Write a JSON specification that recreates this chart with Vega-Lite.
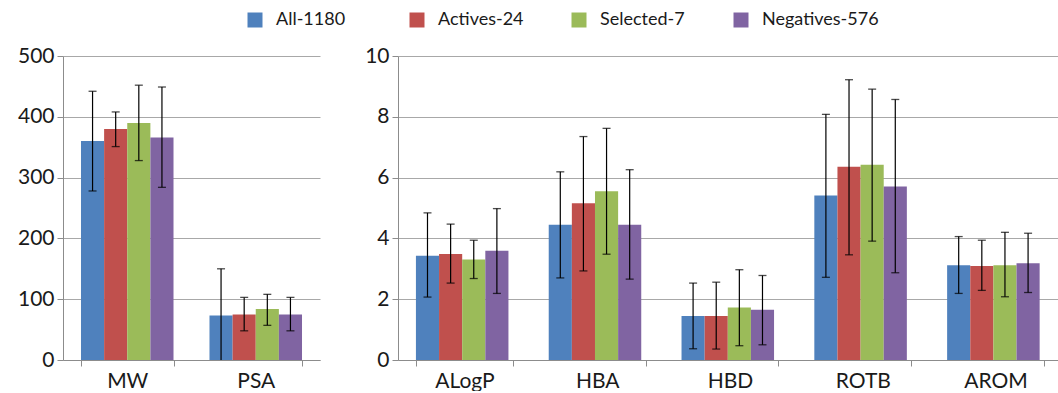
{
  "$schema": "https://vega.github.io/schema/vega-lite/v6.json",
  "padding": {"left": 17, "top": 11, "right": 0, "bottom": 0},
  "background": "white",
  "datasets": {
    "left": [
      {"prop": "MW", "group": "All-1180", "mean": 360, "lo": 278, "hi": 442},
      {"prop": "MW", "group": "Actives-24", "mean": 380, "lo": 351, "hi": 408},
      {"prop": "MW", "group": "Selected-7", "mean": 390, "lo": 328, "hi": 452},
      {"prop": "MW", "group": "Negatives-576", "mean": 366, "lo": 284, "hi": 449},
      {"prop": "PSA", "group": "All-1180", "mean": 73, "lo": -4, "hi": 150},
      {"prop": "PSA", "group": "Actives-24", "mean": 75, "lo": 48, "hi": 103},
      {"prop": "PSA", "group": "Selected-7", "mean": 84, "lo": 57, "hi": 108},
      {"prop": "PSA", "group": "Negatives-576", "mean": 75, "lo": 48, "hi": 103}
    ],
    "right": [
      {"prop": "ALogP", "group": "All-1180", "mean": 3.43, "lo": 2.07, "hi": 4.84},
      {"prop": "ALogP", "group": "Actives-24", "mean": 3.49, "lo": 2.53, "hi": 4.47},
      {"prop": "ALogP", "group": "Selected-7", "mean": 3.31, "lo": 2.68, "hi": 3.94},
      {"prop": "ALogP", "group": "Negatives-576", "mean": 3.59, "lo": 2.19, "hi": 4.98},
      {"prop": "HBA", "group": "All-1180", "mean": 4.45, "lo": 2.70, "hi": 6.19},
      {"prop": "HBA", "group": "Actives-24", "mean": 5.16, "lo": 2.93, "hi": 7.35},
      {"prop": "HBA", "group": "Selected-7", "mean": 5.55, "lo": 3.48, "hi": 7.62},
      {"prop": "HBA", "group": "Negatives-576", "mean": 4.45, "lo": 2.66, "hi": 6.26},
      {"prop": "HBD", "group": "All-1180", "mean": 1.45, "lo": 0.37, "hi": 2.53},
      {"prop": "HBD", "group": "Actives-24", "mean": 1.45, "lo": 0.36, "hi": 2.56},
      {"prop": "HBD", "group": "Selected-7", "mean": 1.73, "lo": 0.47, "hi": 2.97},
      {"prop": "HBD", "group": "Negatives-576", "mean": 1.65, "lo": 0.50, "hi": 2.78},
      {"prop": "ROTB", "group": "All-1180", "mean": 5.41, "lo": 2.72, "hi": 8.08},
      {"prop": "ROTB", "group": "Actives-24", "mean": 6.36, "lo": 3.46, "hi": 9.22},
      {"prop": "ROTB", "group": "Selected-7", "mean": 6.42, "lo": 3.91, "hi": 8.91},
      {"prop": "ROTB", "group": "Negatives-576", "mean": 5.71, "lo": 2.87, "hi": 8.57},
      {"prop": "AROM", "group": "All-1180", "mean": 3.12, "lo": 2.19, "hi": 4.06},
      {"prop": "AROM", "group": "Actives-24", "mean": 3.09, "lo": 2.29, "hi": 3.94},
      {"prop": "AROM", "group": "Selected-7", "mean": 3.12, "lo": 2.08, "hi": 4.20},
      {"prop": "AROM", "group": "Negatives-576", "mean": 3.18, "lo": 2.22, "hi": 4.17}
    ]
  },
  "config": {
    "font": "Lato",
    "view": {"stroke": null},
    "axis": {
      "labelFont": "Lato",
      "labelColor": "#1a1a1a",
      "domainColor": "#8c8c8c",
      "tickColor": "#8c8c8c",
      "gridColor": "#a8a8a8",
      "tickSize": 6,
      "labelPadding": 3
    },
    "legend": {"labelFont": "Lato", "labelFontSize": 18, "labelColor": "#1a1a1a"}
  },
  "spacing": 44,
  "hconcat": [
    {
      "width": 257,
      "height": 304,
      "data": {"name": "left"},
      "encoding": {
        "x": {"field": "prop", "type": "nominal", "sort": ["MW", "PSA"],
          "scale": {"paddingInner": 0.28, "paddingOuter": 0.14},
          "axis": {"title": null, "labelAngle": 0, "labelFontSize": 21, "labelPadding": 4, "tickBand": "extent", "grid": false}},
        "xOffset": {"field": "group", "type": "nominal", "sort": ["All-1180", "Actives-24", "Selected-7", "Negatives-576"], "scale": {"paddingInner": 0, "paddingOuter": 0}}
      },
      "layer": [
        {
          "mark": {"type": "bar", "clip": true},
          "encoding": {
            "y": {"field": "mean", "type": "quantitative", "scale": {"domain": [0, 500], "nice": false},
              "axis": {"title": null, "values": [0, 50, 100, 150, 200, 250, 300, 350, 400, 450, 500],
                "labelExpr": "datum.value % 100 === 0 ? datum.label : ''", "labelFontSize": 21, "grid": true}},
            "color": {"field": "group", "type": "nominal",
              "scale": {"domain": ["All-1180", "Actives-24", "Selected-7", "Negatives-576"], "range": ["#4F81BD", "#C0504D", "#9BBB59", "#8064A2"]},
              "legend": {"title": null, "orient": "none", "legendX": 183, "legendY": -45, "direction": "horizontal", "columns": 4, "gridAlign": "all", "symbolType": "square", "symbolSize": 225, "symbolStrokeWidth": 0, "columnPadding": 15, "labelOffset": 12}}
          }
        },
        {
          "mark": {"type": "rule", "color": "black", "strokeWidth": 1.2, "clip": true},
          "encoding": {"y": {"field": "lo", "type": "quantitative"}, "y2": {"field": "hi"}}
        },
        {
          "mark": {"type": "tick", "color": "black", "thickness": 1.3, "size": 8, "orient": "horizontal", "clip": true},
          "encoding": {"y": {"field": "hi", "type": "quantitative"}}
        },
        {
          "mark": {"type": "tick", "color": "black", "thickness": 1.3, "size": 8, "orient": "horizontal", "clip": true},
          "encoding": {"y": {"field": "lo", "type": "quantitative"}}
        }
      ]
    },
    {
      "width": 664,
      "height": 304,
      "data": {"name": "right"},
      "encoding": {
        "x": {"field": "prop", "type": "nominal", "sort": ["ALogP", "HBA", "HBD", "ROTB", "AROM"],
          "scale": {"paddingInner": 0.27, "paddingOuter": 0.135},
          "axis": {"title": null, "labelAngle": 0, "labelFontSize": 21, "labelPadding": 4, "tickBand": "extent", "grid": false}},
        "xOffset": {"field": "group", "type": "nominal", "sort": ["All-1180", "Actives-24", "Selected-7", "Negatives-576"], "scale": {"paddingInner": 0, "paddingOuter": 0}}
      },
      "layer": [
        {
          "mark": {"type": "bar"},
          "encoding": {
            "y": {"field": "mean", "type": "quantitative", "scale": {"domain": [0, 10], "nice": false},
              "axis": {"title": null, "values": [0, 1, 2, 3, 4, 5, 6, 7, 8, 9, 10],
                "labelExpr": "datum.value % 2 === 0 ? datum.label : ''", "labelFontSize": 21, "grid": true}},
            "color": {"field": "group", "type": "nominal",
              "scale": {"domain": ["All-1180", "Actives-24", "Selected-7", "Negatives-576"], "range": ["#4F81BD", "#C0504D", "#9BBB59", "#8064A2"]},
              "legend": null}
          }
        },
        {
          "mark": {"type": "rule", "color": "black", "strokeWidth": 1.2},
          "encoding": {"y": {"field": "lo", "type": "quantitative"}, "y2": {"field": "hi"}}
        },
        {
          "mark": {"type": "tick", "color": "black", "thickness": 1.3, "size": 8, "orient": "horizontal"},
          "encoding": {"y": {"field": "hi", "type": "quantitative"}}
        },
        {
          "mark": {"type": "tick", "color": "black", "thickness": 1.3, "size": 8, "orient": "horizontal"},
          "encoding": {"y": {"field": "lo", "type": "quantitative"}}
        }
      ]
    }
  ]
}
